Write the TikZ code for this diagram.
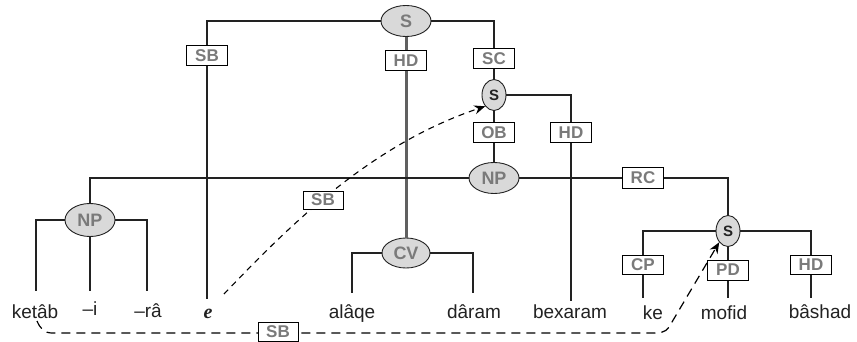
\documentclass[tikz,border=0pt]{standalone}
\usepackage{fontspec}
\setmainfont{Liberation Sans}
\newfontfamily\tnr{Liberation Serif}
\usetikzlibrary{shapes.geometric,arrows.meta}
\definecolor{lbl}{HTML}{7A7A7A}
\definecolor{efill}{HTML}{D9D9D9}
\definecolor{ln}{HTML}{222222}
\definecolor{gl}{HTML}{606060}
\begin{document}
\begin{tikzpicture}[x=1pt,y=-1pt,
  tree/.style={draw=ln,line width=1.6pt},
  gtree/.style={draw=gl,line width=3pt},
  lab/.style={draw=black,line width=1pt,fill=white,minimum width=41pt,minimum height=20pt,inner sep=0pt,font=\fontsize{17}{17}\selectfont\bfseries,text=lbl},
  cat/.style={ellipse,draw=ln,line width=0.9pt,fill=efill,inner sep=0pt,minimum width=50pt,minimum height=31pt,font=\fontsize{18}{18}\selectfont\bfseries,text=lbl},
  smallcat/.style={ellipse,draw=ln,line width=0.9pt,fill=efill,inner sep=0pt,minimum width=24pt,minimum height=31pt,font=\fontsize{15}{15}\selectfont\bfseries,text=ln},
  word/.style={anchor=base,inner sep=0pt,font=\fontsize{19}{19}\selectfont,text=ln},
  rel/.style={draw=black,line width=1.2pt,dash pattern=on 9pt off 6pt},
  relb/.style={draw=black,line width=1.1pt,dash pattern=on 6pt off 5pt},
  tip/.style={-{Stealth[length=11pt,width=9pt]}}
]
\useasboundingbox[fill=white] (0,0) rectangle (857,342);

% category nodes
\node[cat] (Stop) at (406,21) {S};
\node[smallcat] (s2) at (494,95) {S};
\node[cat] (np1) at (494,178) {NP};
\node[smallcat] (s3) at (728,231) {S};
\node[cat,minimum height=33pt] (np2) at (90,220) {NP};
\node[cat,minimum width=48pt,minimum height=30pt] (cv) at (406,253) {CV};

% label boxes on the tree
\node[lab] (sb1) at (207,56) {SB};
\node[lab] (hd1) at (406,61) {HD};
\node[lab] (sc) at (494,59) {SC};
\node[lab] (ob) at (494,133) {OB};
\node[lab] (hd2) at (571,133) {HD};
\node[lab] (rc) at (643,178) {RC};
\node[lab,minimum height=19pt] (cp) at (643,265) {CP};
\node[lab] (pd) at (728,270) {PD};
\node[lab,minimum height=19pt] (hd3) at (811,265) {HD};

% words
\node[word] (ketab) at (35,318) {ketâb};
\node[word] (wi) at (90,315) {–i};
\node[word] (wra) at (148,317) {–râ};
\node[word,font=\fontsize{20}{20}\tnr\bfseries\itshape] (we) at (208,318) {e};
\node[word] (alaqe) at (352,318) {alâqe};
\node[word] (daram) at (474,318) {dâram};
\node[word] (bexaram) at (570,318) {bexaram};
\node[word] (ke) at (653,319) {ke};
\node[word] (mofid) at (724,319) {mofid};
\node[word] (bashad) at (820,318) {bâshad};

% free ends of the branches
\coordinate (ekt) at (36,291);
\coordinate (ei) at (90,291);
\coordinate (era) at (147,291);
\coordinate (ee) at (207,299);
\coordinate (eaq) at (352,293);
\coordinate (edr) at (473,293);
\coordinate (ebx) at (571,301);
\coordinate (eke) at (643,298);
\coordinate (emf) at (728,298);
\coordinate (ebs) at (811,298);

% tree branches
\draw[tree] (Stop.west) -| (sb1.north);
\draw[tree] (sb1.south) -- (ee);
\draw[gtree] (Stop.south) -- (hd1.north);
\draw[gtree] (hd1.south) -- (cv.north);
\draw[tree] (Stop.east) -| (sc.north);
\draw[tree] (sc.south) -- (s2.north);
\draw[tree] (s2.east) -| (hd2.north);
\draw[tree] (hd2.south) -- (ebx);
\draw[tree] (s2.south) -- (ob.north);
\draw[tree] (ob.south) -- (np1.north);
\draw[tree] (np1.west) -| (np2.north);
\draw[tree] (np1.east) -- (rc.west);
\draw[tree] (rc.east) -| (s3.north);
\draw[tree] (s3.west) -| (cp.north);
\draw[tree] (cp.south) -- (eke);
\draw[tree] (s3.south) -- (pd.north);
\draw[tree] (pd.south) -- (emf);
\draw[tree] (s3.east) -| (hd3.north);
\draw[tree] (hd3.south) -- (ebs);
\draw[tree] (np2.west) -| (ekt);
\draw[tree] (np2.south) -- (ei);
\draw[tree] (np2.east) -| (era);
\draw[tree] (cv.west) -| (eaq);
\draw[tree] (cv.east) -| (edr);

% dependency relations (dashed)
\coordinate (ds) at (224,294);
\draw[relb,tip] (ds) .. controls (290,225) and (370,145) .. (s2.south west);
\node[lab,minimum height=18pt,minimum width=40pt] (sb2) at (323,200) {SB};

\coordinate (dk) at (37,321);
\draw[rel,tip] (dk) .. controls (40,328) and (44,333) .. (52,333) -- (655,333)
  .. controls (665,333) and (668,330) .. (672,322) -- (s3.south west);
\node[lab,minimum height=19pt,minimum width=40pt] (sb3) at (278,332) {SB};
\end{tikzpicture}
\end{document}
